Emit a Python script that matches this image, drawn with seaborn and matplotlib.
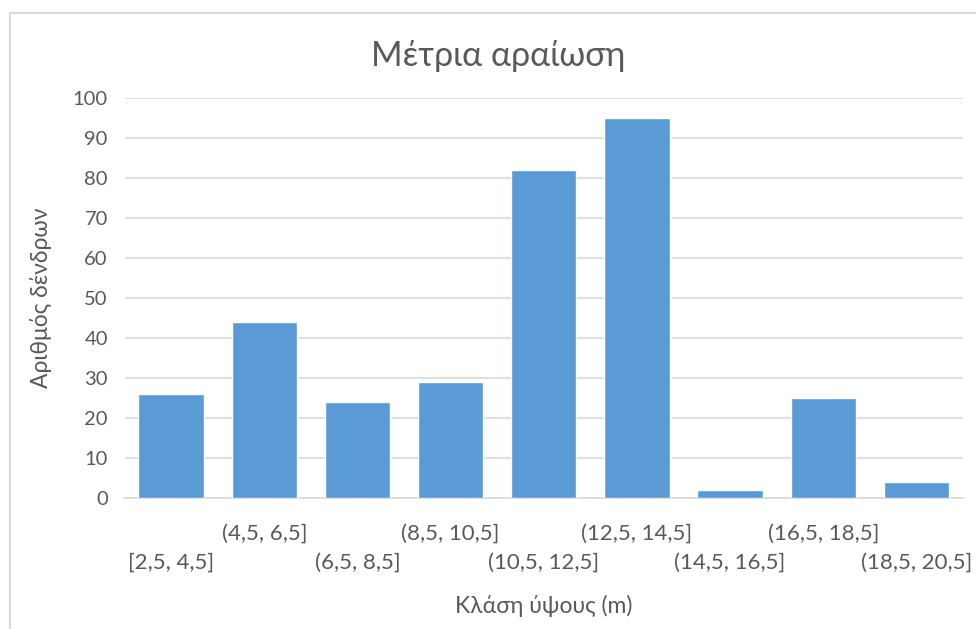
import matplotlib
matplotlib.use("Agg")
import matplotlib.pyplot as plt
import seaborn as sns
import pandas as pd
from matplotlib.lines import Line2D

# Height classes (m) and number of trees per class
classes = ["[2,5, 4,5]", "(4,5, 6,5]", "(6,5, 8,5]", "(8,5, 10,5]", "(10,5, 12,5]",
           "(12,5, 14,5]", "(14,5, 16,5]", "(16,5, 18,5]", "(18,5, 20,5]"]
counts = [26, 44, 24, 29, 82, 95, 2, 25, 4]
y_ticks = [0, 10, 20, 30, 40, 50, 60, 70, 80, 90, 100]

title = "Μέτρια αραίωση"
x_label = "Κλάση ύψους (m)"
y_label = "Αριθμός δένδρων"

df = pd.DataFrame({"class": classes, "count": counts})

sns.set_theme(style="white")
plt.rcParams["font.family"] = ["Lato", "DejaVu Sans"]

text_color = "#595959"
bar_color = "#5B9BD5"
grid_color = "#D9D9D9"

fig = plt.figure(figsize=(9.76, 6.29), dpi=100)
ax = fig.add_axes([124.5 / 976, 1 - 498 / 629, (963 - 124.5) / 976, 400 / 629])

sns.barplot(data=df, x="class", y="count", color=bar_color, width=0.7,
            saturation=1, ax=ax, zorder=3)

ax.set_ylim(0, 100)
ax.set_xlim(-0.5, len(classes) - 0.5)
ax.set_yticks(y_ticks)
ax.yaxis.grid(True, color=grid_color, linewidth=1.2, zorder=0)
ax.set_axisbelow(True)
for side in ["left", "right", "top"]:
    ax.spines[side].set_visible(False)
ax.spines["bottom"].set_color(grid_color)
ax.spines["bottom"].set_linewidth(1.2)
ax.tick_params(axis="x", length=0, labelsize=16, colors=text_color)
ax.tick_params(axis="y", length=0, labelsize=14.5, colors=text_color, pad=12)

# Staggered category labels: alternate between two rows
for i, tick in enumerate(ax.xaxis.get_major_ticks()):
    tick.set_pad(39.5 if i % 2 == 0 else 18.5)

ax.set_xlabel(x_label, fontsize=16.5, color=text_color, labelpad=16)
ax.set_ylabel(y_label, fontsize=16.5, color=text_color, labelpad=15)
fig.text(498 / 976, 1 - 56 / 629, title, fontsize=24.5, color=text_color,
         ha="center", va="center")

# Chart-area frame along the left and top edges
fig.add_artist(Line2D([10 / 976, 10 / 976], [0, 1 - 13 / 629], transform=fig.transFigure,
                      color="#D9D9D9", linewidth=1.5))
fig.add_artist(Line2D([10 / 976, 1], [1 - 13 / 629, 1 - 13 / 629], transform=fig.transFigure,
                      color="#D9D9D9", linewidth=1.5))

fig.savefig("out.png", dpi=100, facecolor="white")
